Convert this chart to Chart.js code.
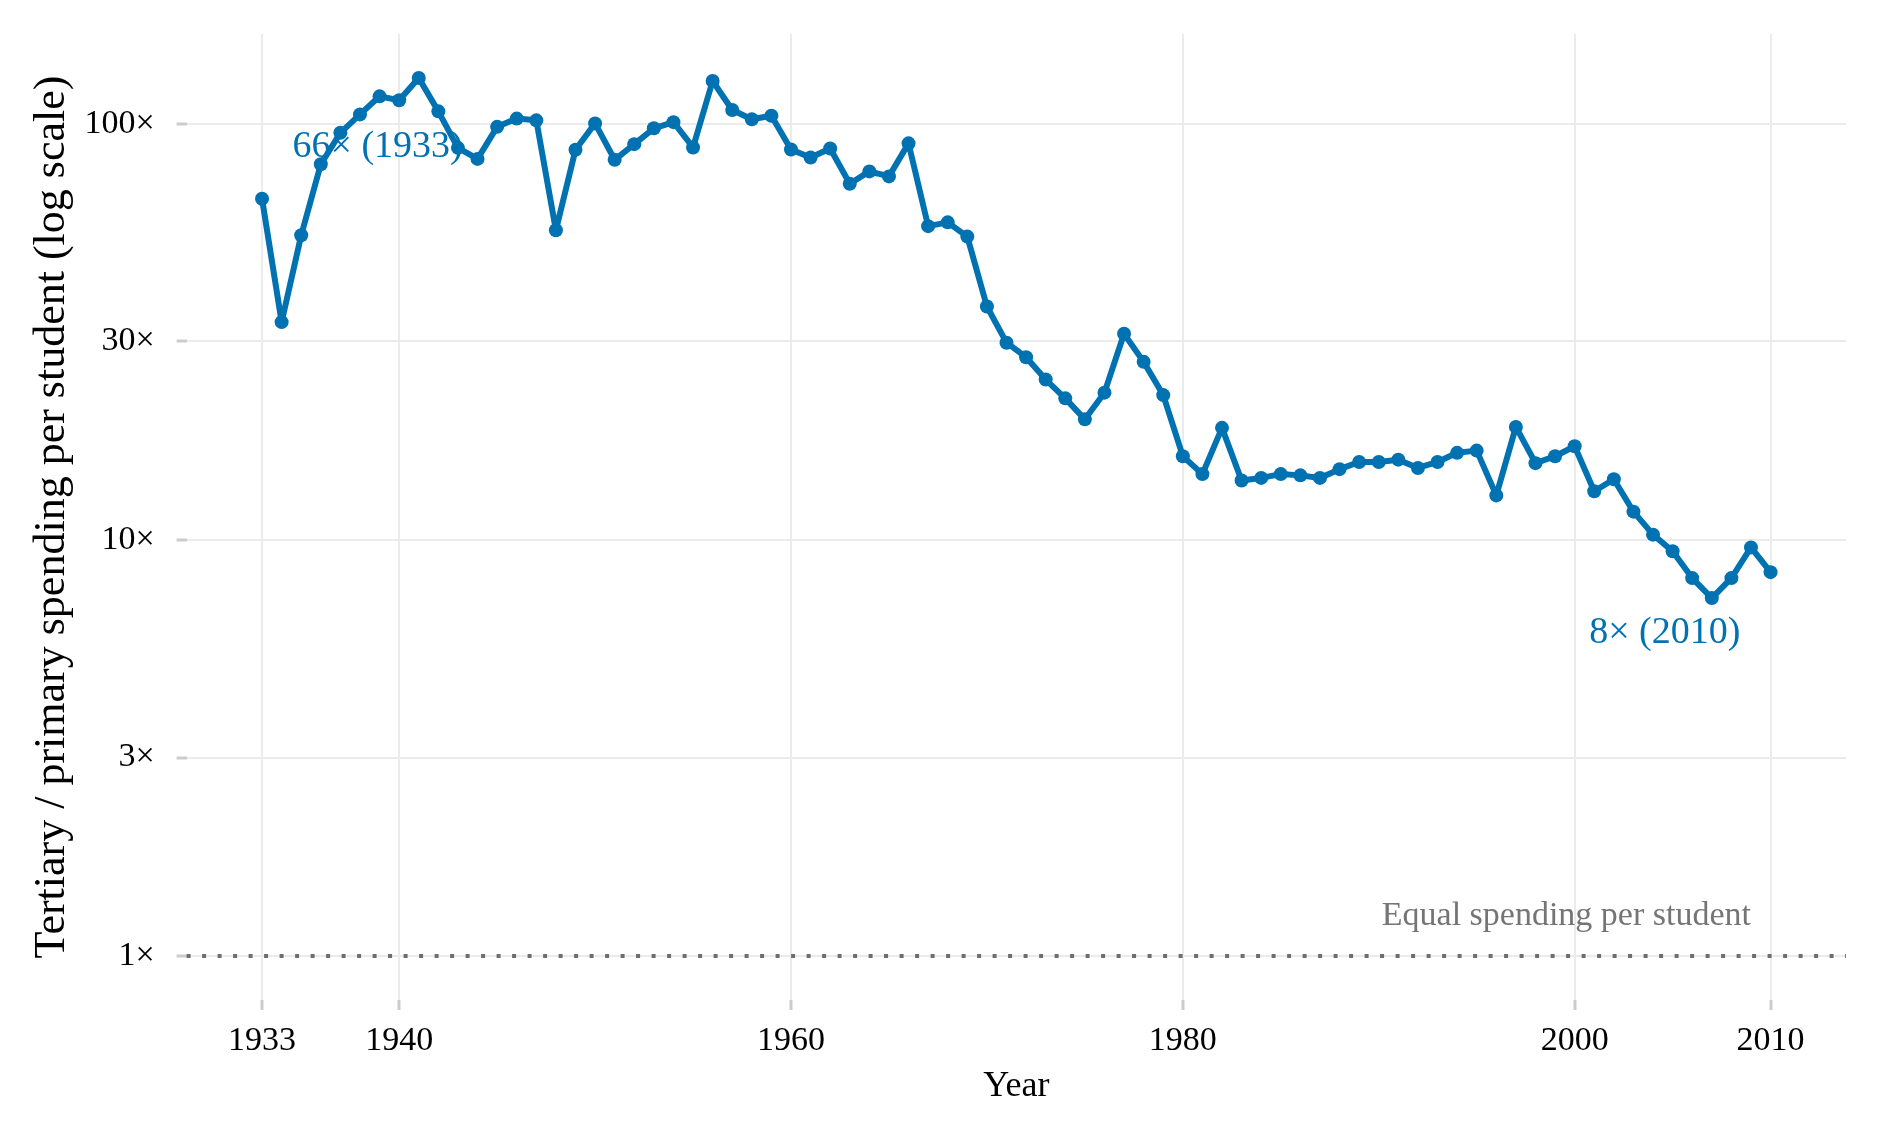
<!DOCTYPE html>
<html>
<head>
<meta charset="utf-8">
<script src="https://cdn.jsdelivr.net/npm/chart.js@4/dist/chart.umd.min.js"></script>
<style>
html, body { margin: 0; padding: 0; background: #fff; }
canvas { display: block; }
</style>
</head>
<body>
<canvas id="grafica" width="1879" height="1138"></canvas>
<script>
// datos
const anios = [1933,1934,1935,1936,1937,1938,1939,1940,1941,1942,1943,1944,1945,1946,1947,1948,1949,1950,
  1951,1952,1953,1954,1955,1956,1957,1958,1959,1960,1961,1962,1963,1964,1965,1966,1967,1968,1969,1970,
  1971,1972,1973,1974,1975,1976,1977,1978,1979,1980,1981,1982,1983,1984,1985,1986,1987,1988,1989,1990,
  1991,1992,1993,1994,1995,1996,1997,1998,1999,2000,2001,2002,2003,2004,2005,2006,2007,2008,2009,2010];
const ratios = [66.1,33.4,54.0,80.0,95.2,105.4,116.5,114.0,129.0,107.2,87.6,82.4,98.4,103.0,102.0,55.5,86.7,100.3,
  82.0,89.4,97.6,101.0,87.8,126.8,108.0,102.6,104.6,86.8,83.0,87.3,71.8,76.9,74.8,89.8,56.8,58.0,53.6,36.4,
  29.8,27.5,24.3,21.9,19.5,22.6,31.3,26.8,22.3,15.9,14.4,18.6,13.9,14.1,14.4,14.3,14.1,14.8,15.4,15.4,
  15.6,14.9,15.4,16.2,16.4,12.8,18.7,15.3,15.9,16.8,13.1,14.0,11.7,10.3,9.4,8.1,7.25,8.1,9.6,8.37];
const ticksAnios = [1933, 1940, 1960, 1980, 2000, 2010];
const ticksRatio = [1, 3, 10, 30, 100];
const etiquetas = ['66\u00d7 (1933)', '8\u00d7 (2010)'];
const etiquetasX = [1938.9, 2004.6];
const etiquetasY = [83.2, 5.64];
const lineaRef = 1;
const textoRef = 'Equal spending per student';
const textoRefX = 2009;
const textoRefY = 1.19;

const azul = '#0072b2';
const fuente = '"Liberation Serif", "Times New Roman", serif';

// rango con 5% de margen como en ggplot
const xMin = anios[0] - 0.05 * (anios[anios.length - 1] - anios[0]);
const xMax = anios[anios.length - 1] + 0.05 * (anios[anios.length - 1] - anios[0]);
const logMax = Math.log10(Math.max(...ratios));
const logMin = Math.log10(lineaRef);
const yMin = Math.pow(10, logMin - 0.05 * (logMax - logMin));
const yMax = Math.pow(10, logMax + 0.05 * (logMax - logMin));

const notas = {
  id: 'notas',
  beforeDatasetsDraw(chart) {
    const {ctx, chartArea, scales: {x, y}} = chart;
    const py = y.getPixelForValue(lineaRef);
    ctx.save();
    ctx.strokeStyle = '#6e6e6e';
    ctx.lineWidth = 4;
    ctx.setLineDash([4, 11.5]);
    ctx.beginPath();
    ctx.moveTo(chartArea.left, py);
    ctx.lineTo(chartArea.right, py);
    ctx.stroke();
    ctx.setLineDash([]);

    ctx.fillStyle = '#757575';
    ctx.font = '34px ' + fuente;
    ctx.textAlign = 'right';
    ctx.textBaseline = 'alphabetic';
    ctx.fillText(textoRef, x.getPixelForValue(textoRefX), y.getPixelForValue(textoRefY));

    ctx.fillStyle = azul;
    ctx.font = '38px ' + fuente;
    ctx.textAlign = 'center';
    for (let i = 0; i < etiquetas.length; i++) {
      ctx.fillText(etiquetas[i], x.getPixelForValue(etiquetasX[i]), y.getPixelForValue(etiquetasY[i]));
    }
    ctx.restore();
  }
};

let ctx = document.getElementById('grafica').getContext('2d');
let chart = new Chart(ctx, {
  type: 'line',
  data: {
    labels: anios,
    datasets: [{
      data: anios.map((a, i) => ({x: a, y: ratios[i]})),
      borderColor: azul,
      backgroundColor: azul,
      borderWidth: 6,
      borderJoinStyle: 'round',
      borderCapStyle: 'round',
      pointRadius: 7,
      pointBorderWidth: 0,
      pointBackgroundColor: azul,
      tension: 0
    }]
  },
  options: {
    responsive: false,
    animation: false,
    layout: { autoPadding: false, padding: { top: 34, right: 33, left: 0, bottom: 0 } },
    plugins: { legend: { display: false }, tooltip: { enabled: false } },
    scales: {
      x: {
        type: 'linear',
        min: xMin,
        max: xMax,
        afterBuildTicks(scale) { scale.ticks = ticksAnios.map(v => ({value: v})); },
        afterFit(scale) { scale.height = 138; scale.paddingLeft = 0; scale.paddingRight = 0; },
        grid: { color: '#ebebeb', lineWidth: 2, tickColor: '#cccccc', tickWidth: 3, tickLength: 10 },
        border: { display: false },
        ticks: {
          autoSkip: false, maxRotation: 0, padding: 11,
          color: '#000', font: { family: fuente, size: 34 },
          callback: v => String(v)
        },
        title: {
          display: true, text: 'Year', color: '#000',
          font: { family: fuente, size: 36 },
          padding: { top: 0, bottom: 30 }
        }
      },
      y: {
        type: 'logarithmic',
        min: yMin,
        max: yMax,
        afterBuildTicks(scale) { scale.ticks = ticksRatio.map(v => ({value: v})); },
        afterFit(scale) { scale.width = 186.6; scale.paddingTop = 0; scale.paddingBottom = 0; },
        grid: { color: '#ebebeb', lineWidth: 2, tickColor: '#cccccc', tickWidth: 3, tickLength: 10 },
        border: { display: false },
        ticks: {
          autoSkip: false, padding: 22,
          color: '#000', font: { family: fuente, size: 34 },
          callback: v => v + '\u00d7'
        },
        title: {
          display: true, text: 'Tertiary / primary spending per student (log scale)', color: '#000',
          font: { family: fuente, size: 44 },
          padding: { top: 26, bottom: 0 }
        }
      }
    }
  },
  plugins: [notas]
});
</script>
</body>
</html>
